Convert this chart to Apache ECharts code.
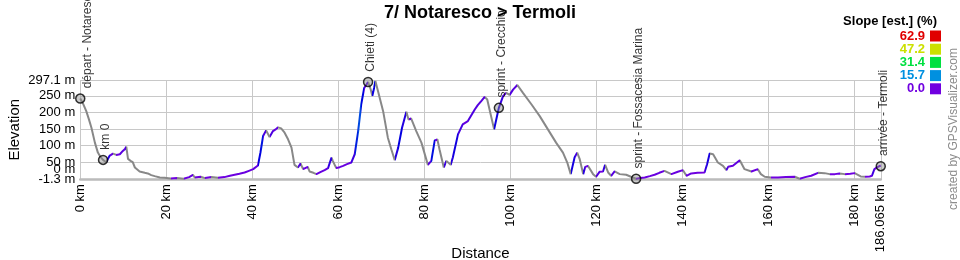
<!DOCTYPE html>
<html>
<head>
<meta charset="utf-8">
<script src="https://cdn.jsdelivr.net/npm/echarts@6/dist/echarts.min.js"></script>
<style>html,body{margin:0;padding:0;background:#fff}#c{width:960px;height:260px}</style>
</head>
<body>
<div id="c"></div>
<script>
// ---- data ----
const title = '7/ Notaresco > Termoli';
const distKm = [0,0.6,1.4,2.0,2.6,3.4,4.1,4.7,5.3,6.0,6.3,6.8,7.6,8.4,9.2,9.9,10.4,10.7,11.1,11.7,12.2,12.7,13.8,15.0,15.7,16.5,17.3,18.5,19.6,21.0,22.5,24.0,25.3,26.2,26.6,28.0,29.0,30.5,32.0,33.5,34.8,35.9,37.0,38.2,39.2,40.2,41.3,41.9,42.5,43.2,44.0,44.8,45.5,46.0,46.7,47.5,48.3,49.1,49.8,50.6,51.2,51.8,52.9,53.3,54.2,54.9,55.8,56.8,57.6,58.4,58.7,59.5,60.3,61.1,62.0,63.0,63.8,64.6,65.3,66.0,66.9,67.5,67.9,68.3,68.6,69.2,70.4,71.5,72.3,73.1,73.9,74.8,75.8,76.3,76.9,78.1,79.3,80.8,81.6,82.4,83.0,83.5,84.5,85.1,86.1,86.6,87.8,88.9,90.1,91.7,92.4,93.3,94.0,94.6,95.4,96.2,96.8,97.3,98.3,99.0,99.8,100.6,101.6,102.9,104.9,106.8,108.7,110.6,112.2,113.2,114.0,114.9,115.5,116.1,116.9,117.4,118.0,119.2,119.9,120.7,121.5,122.0,122.7,123.4,124.2,125.4,126.9,128.0,129.2,130.2,131.2,132.4,133.5,134.6,135.8,137.4,138.9,140.1,140.9,142.0,143.5,145.1,145.7,146.3,147.1,148.2,149.4,150.2,150.6,151.7,153.3,154.4,156.0,157.5,158.2,159.1,160.5,162.2,164.0,166.1,167.2,168.5,169.9,171.5,173.0,174.2,175.4,176.5,177.7,179.0,180.0,181.4,182.5,183.5,184.0,184.6,185.4,186.065];
const elevM = [242,228,204,180,154,109,79,66,57,50,46,69,76,72,74,84,90,97,60,54,50,34,22,18,16,11,8,4,3,1,2,0,5,12,4,6,2,5,3,5,9,12,15,19,24,29,40,80,129,146,126,144,150,155,152,139,119,94,42,34,46,29,36,22,18,14,20,26,32,64,54,32,35,39,44,49,74,144,224,274,292,270,250,274,295,265,204,124,89,56,94,154,202,179,182,144,109,42,54,116,119,89,34,54,42,64,134,164,174,209,222,236,247,239,194,149,185,214,250,259,253,269,283,259,224,189,149,109,79,49,14,64,79,59,14,36,39,14,6,21,22,42,19,9,22,14,12,6,0,2,4,8,12,18,24,14,21,26,9,16,18,19,44,76,74,49,39,26,36,39,56,29,22,29,14,6,4,4,5,6,0,5,9,18,17,14,14,16,14,15,17,7,6,7,9,29,36,40];
const wpNames = ['départ - Notaresco','km 0','Chieti (4)','sprint - Crecchio','sprint - Fossacesia Marina','arrivée - Termoli'];
const wpKm = [0, 5.3, 66.9, 97.3, 129.2, 186.065];
const wpElev = [242, 57, 292, 214, 0, 38];
const yTicks = [-1.3, 50, 100, 150, 200, 250, 297.1];
const yZeroTick = [0];
const xTicks = [0, 20, 40, 60, 80, 100, 120, 140, 160, 180, 186.065];
const legendTitle = 'Slope [est.] (%)';
const slopeValues = [62.9, 47.2, 31.4, 15.7, 0.0];
const slopeColors = ['#e00000', '#cce000', '#00e040', '#0090e0', '#7000e0'];
const creditText = 'created by GPSVisualizer.com';

// ---- colours by slope ----
const FONT = 'Liberation Sans, Arial, sans-serif';
function hexHue(hex){
  const r=parseInt(hex.substr(1,2),16)/255,g=parseInt(hex.substr(3,2),16)/255,b=parseInt(hex.substr(5,2),16)/255;
  const mx=Math.max(r,g,b),mn=Math.min(r,g,b),d=mx-mn; if(d===0) return 0;
  let h; if(mx===r) h=((g-b)/d)%6; else if(mx===g) h=(b-r)/d+2; else h=(r-g)/d+4;
  h*=60; if(h<0) h+=360; return h;
}
const hueStops = slopeValues.map((v,i)=>[v, hexHue(slopeColors[i])]).reverse();
function hsv(h,s,v){
  const c=v*s,x=c*(1-Math.abs((h/60)%2-1)),m=v-c; let r,g,b;
  if(h<60){r=c;g=x;b=0}else if(h<120){r=x;g=c;b=0}else if(h<180){r=0;g=c;b=x}else if(h<240){r=0;g=x;b=c}else if(h<300){r=x;g=0;b=c}else{r=c;g=0;b=x}
  const f=t=>Math.round((t+m)*255).toString(16).padStart(2,'0');
  return '#'+f(r)+f(g)+f(b);
}
function slopeColor(s){
  if(s<0) return '#888888';
  let h=hueStops[hueStops.length-1][1];
  for(let i=0;i<hueStops.length-1;i++){
    const a=hueStops[i],b=hueStops[i+1];
    if(s<=b[0]){h=a[1]+(b[1]-a[1])*(s-a[0])/(b[0]-a[0]);break;}
  }
  return hsv(h,1,0.88);
}
const pieces=[];
for(let i=0;i<distKm.length-1;i++){
  const s=(elevM[i+1]-elevM[i])/((distKm[i+1]-distKm[i])*1000)*100;
  const p={gte:distKm[i],color:slopeColor(s)};
  if(i<distKm.length-2) p.lt=distKm[i+1]; else p.lte=distKm[i+1];
  pieces.push(p);
}

const chart = echarts.init(document.getElementById('c'), null, {renderer:'canvas'});
const graphics = [{type:'text',right:23,top:15,style:{text:legendTitle,fill:'#000',font:'bold 13px '+FONT}}];
slopeValues.forEach((v,i)=>{
  graphics.push({type:'text',x:925,y:36+i*13.2,style:{text:v.toFixed(1),fill:slopeColors[i],font:'bold 13px '+FONT,align:'right',verticalAlign:'middle'}});
  graphics.push({type:'rect',shape:{x:930,y:30.5+i*13.2,width:11,height:11},style:{fill:slopeColors[i]}});
});
graphics.push({type:'text',x:954,y:129,rotation:Math.PI/2,style:{text:creditText,fill:'#8c8c8c',font:'12px '+FONT,align:'center',verticalAlign:'middle'}});

const yLabelBase = {margin:5,fontSize:13,color:'#000',fontFamily:FONT,showMinLabel:true,showMaxLabel:true};
chart.setOption({
  animation:false,
  textStyle:{fontFamily:FONT},
  title:{text:title,left:'center',top:-1,textStyle:{fontSize:18,fontWeight:'bold',color:'#000',fontFamily:FONT}},
  grid:{left:80.25,top:80.3,width:800.5,height:98.9,containLabel:false,outerBoundsMode:'none'},
  xAxis:{type:'value',min:0,max:186.065,name:'Distance',nameLocation:'middle',nameGap:75,nameMoveOverlap:false,
    nameTextStyle:{fontSize:15,color:'#000',fontFamily:FONT,verticalAlign:'middle'},
    axisLine:{show:true,lineStyle:{color:'#bbbbbb',width:2.5}},
    axisTick:{show:false,customValues:xTicks},
    axisLabel:{customValues:xTicks,showMinLabel:true,showMaxLabel:true,rotate:90,margin:5,fontSize:13,color:'#000',fontFamily:FONT,formatter:v=>v+' km'},
    splitLine:{show:true,lineStyle:{color:'#c8c8c8',width:1}}},
  yAxis:[
    {type:'value',min:-1.3,max:297.1,name:'Elevation',nameLocation:'middle',nameGap:65,nameRotate:90,nameMoveOverlap:false,
    nameTextStyle:{fontSize:15,color:'#000',fontFamily:FONT,verticalAlign:'middle'},
    axisLine:{show:false},
    axisTick:{show:false,customValues:yTicks},
    axisLabel:Object.assign({customValues:yTicks,formatter:v=>v+' m'},yLabelBase),
    splitLine:{show:true,lineStyle:{color:'#c8c8c8',width:1}}},
    {type:'value',min:-1.3,max:297.1,position:'left',
    axisLine:{show:false},axisTick:{show:false,customValues:yZeroTick},splitLine:{show:false},
    axisLabel:Object.assign({customValues:yZeroTick,formatter:v=>'{up|'+v+' m}',
      rich:{up:{fontSize:13,color:'#000',fontFamily:FONT,padding:[0,0,19,0]}}},yLabelBase)}
  ],
  visualMap:{type:'piecewise',show:false,dimension:0,seriesIndex:0,pieces:pieces,outOfRange:{color:'#888888'}},
  series:[
    {type:'line',data:distKm.map((k,i)=>[k,elevM[i]]),showSymbol:false,symbol:'none',lineStyle:{width:2},z:2},
    {type:'scatter',clip:false,z:5,symbol:'circle',symbolSize:9,
      itemStyle:{color:'rgba(140,140,140,0.55)',borderColor:'#000',borderWidth:1.5},
      label:{show:true,formatter:'{b}',position:'top',distance:5,rotate:90,align:'left',verticalAlign:'middle',fontSize:12,color:'#000',fontFamily:FONT},
      data:wpNames.map((n,i)=>({name:n,value:[wpKm[i],wpElev[i]],label:i===0?{offset:[0,7]}:{offset:[0,3]}}))}
  ],
  graphic:graphics
});
</script>
</body>
</html>
